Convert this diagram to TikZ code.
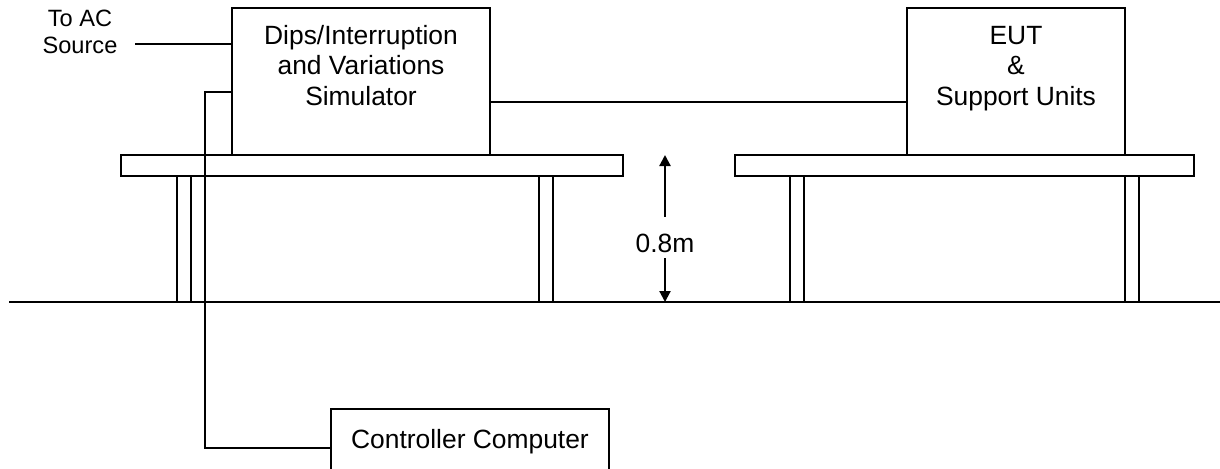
\documentclass[tikz,border=0pt]{standalone}
\usepackage{fontspec}
\setmainfont{Liberation Sans}
\usetikzlibrary{positioning, arrows.meta}

\begin{document}
\begin{tikzpicture}[
				x=0.5pt, y=-0.5pt,
				unit/.style={draw, line width=1.1pt, inner sep=0pt},
				table/.style={line width=1.1pt},
				cable/.style={line width=1.1pt},
				dim/.style={line width=1.1pt, -{Triangle[length=5.5pt, width=5.5pt]}},
				txt/.style={font=\fontsize{13.2}{15.25}\selectfont, align=center, inner sep=0pt}
			]
				\useasboundingbox (0,0) rectangle (1220,468);
				% 地面
				\draw[table] (9,302) -- (1220,302);
				% 桌子
				\draw[table] (121,155) rectangle (623,176);
				\draw[table] (735,155) rectangle (1194,176);
				\foreach \x in {177,539,790,1125}
					\draw[table] (\x,176) rectangle ++(14,126);
				% 设备
				\node[unit, minimum width=129pt, minimum height=73.5pt] (sim) at (361,81.5) {};
				\node[txt, anchor=base] (simtext) at (361,105) {Dips/Interruption\\and Variations\\Simulator};
				\node[unit, minimum width=109pt, minimum height=73.5pt] (eut) at (1016,81.5) {};
				\node[txt, anchor=base] (euttext) at (1016,105) {EUT\\\&\\Support Units};
				\node[unit, txt, draw, minimum width=139pt, minimum height=33pt] (ctrl) at (470,442) {Controller Computer};
				\node[txt, font=\fontsize{11.8}{13.5}\selectfont, anchor=base] (acsrc) at (80,53) {To AC\\Source};
				% 节点
				\coordinate (acend)  at (135,44);
				\coordinate (linky)  at (700,102);
				\coordinate (simctl) at (205,92);
				\coordinate (bend)   at (205,448);
				\coordinate (htop)   at (665,155);
				\coordinate (hbot)   at (665,302);
				% 连线
				\draw[cable] (acend) -- (acend -| sim.west);
				\draw[cable] (linky -| sim.east) -- (linky -| eut.west);
				\draw[cable] (simctl -| sim.west) -| (bend) -- (bend -| ctrl.west);
				% 高度
				\node[txt, anchor=base, inner sep=3pt, text height=14.5pt, text depth=0pt] (height) at (665,252) {0.8m};
				\draw[dim] (height.north) -- (htop);
				\draw[dim] (height.south) -- (hbot);
			\end{tikzpicture}
\end{document}
